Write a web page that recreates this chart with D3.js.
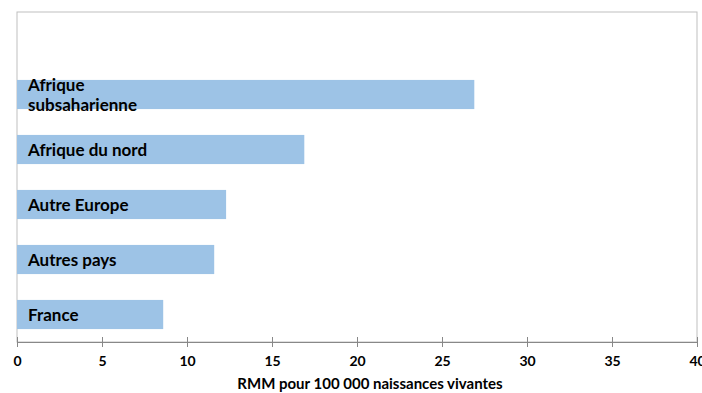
<!DOCTYPE html>
<html>
<head>
<meta charset="utf-8">
<script src="https://cdn.jsdelivr.net/npm/d3@7"></script>
<style>
  html, body { margin: 0; padding: 0; background: #fff; }
  svg { display: block; }
  text { font-family: Lato, "Open Sans", sans-serif; font-weight: bold; fill: #000; }
</style>
</head>
<body>
<svg id="chart" width="702" height="393"></svg>
<script>
// Maternal mortality ratio by mother's place of birth
const categories = ["Afrique subsaharienne", "Afrique du nord", "Autre Europe", "Autres pays", "France"];
const labelLines = [["Afrique", "subsaharienne"], ["Afrique du nord"], ["Autre Europe"], ["Autres pays"], ["France"]];
const values = [26.9, 16.9, 12.3, 11.6, 8.6];
const tickValues = [0, 5, 10, 15, 20, 25, 30, 35, 40];
const axisTitle = "RMM pour 100 000 naissances vivantes";

const svg = d3.select("#chart");
const plotLeft = 17, plotRight = 697, plotTop = 12, plotBottom = 342;

const x = d3.scaleLinear().domain([0, 40]).range([plotLeft, plotRight]);
// one empty slot above the first category
const y = d3.scaleBand()
  .domain(["", ...categories])
  .range([plotTop, plotBottom])
  .paddingInner(0.47)
  .paddingOuter(0.235);

// plot frame
svg.append("rect")
  .attr("x", plotLeft).attr("y", plotTop)
  .attr("width", plotRight - plotLeft).attr("height", plotBottom - plotTop)
  .attr("fill", "none").attr("stroke", "#BFBFBF").attr("stroke-width", 1);

// bars
svg.selectAll("rect.bar")
  .data(categories)
  .join("rect")
  .attr("class", "bar")
  .attr("x", x(0))
  .attr("y", d => y(d))
  .attr("width", (d, i) => x(values[i]) - x(0))
  .attr("height", y.bandwidth())
  .attr("fill", "#9DC3E6");

// category labels inside the bars
const lineH = 20;
categories.forEach((c, i) => {
  const lines = labelLines[i];
  const cy = y(c) + y.bandwidth() / 2;
  const t = svg.append("text")
    .attr("x", 28)
    .attr("font-size", 17);
  lines.forEach((ln, j) => {
    t.append("tspan")
      .attr("x", 28)
      .attr("y", cy + (j - (lines.length - 1) / 2) * lineH)
      .attr("dy", "0.36em")
      .text(ln);
  });
});

// x axis with crossing ticks
const axis = svg.append("g")
  .attr("transform", `translate(0,${plotBottom})`)
  .call(d3.axisBottom(x).tickValues(tickValues).tickSize(0).tickPadding(14));
axis.select(".domain").attr("stroke", "#888").attr("stroke-width", 1);
axis.selectAll(".tick line").remove();
axis.selectAll(".tick")
  .append("line")
  .attr("y1", -5).attr("y2", 5)
  .attr("stroke", "#888");
axis.selectAll(".tick text")
  .attr("font-size", 14)
  .attr("font-family", "Lato, 'Open Sans', sans-serif")
  .attr("font-weight", "bold")
  .attr("fill", "#000");

// axis title
svg.append("text")
  .attr("x", 370)
  .attr("y", 389)
  .attr("text-anchor", "middle")
  .attr("font-size", 15)
  .text(axisTitle);
</script>
</body>
</html>
